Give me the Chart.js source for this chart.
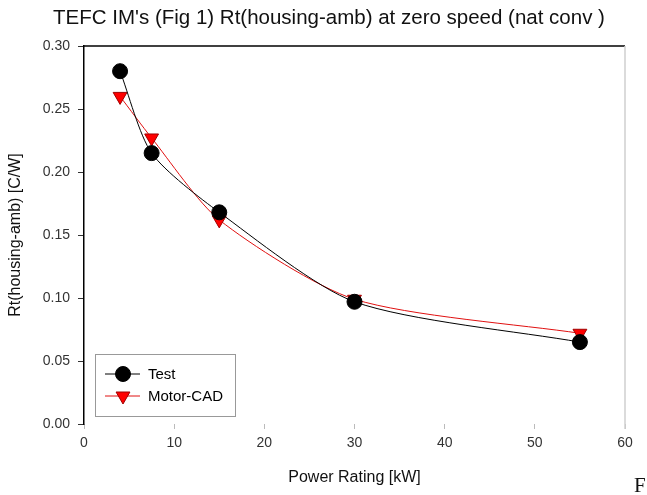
<!DOCTYPE html>
<html>
<head>
<meta charset="utf-8">
<script src="https://cdn.jsdelivr.net/npm/chart.js@4"></script>
<style>
  html, body { margin: 0; padding: 0; background: #fff; }
  #wrap { width: 647px; height: 495px; position: relative; }
</style>
</head>
<body>
<div id="wrap"><canvas id="rtChart" width="647" height="495"></canvas></div>
<script>
// Data
const powerKW = [4, 7.5, 15, 30, 55];
const testRt = [0.280, 0.215, 0.168, 0.097, 0.065];
const motorCadRt = [0.260, 0.227, 0.162, 0.099, 0.072];
const seriesNames = ["Test", "Motor-CAD"];
const chartTitle = "TEFC IM's (Fig 1) Rt(housing-amb) at zero speed (nat conv )";

const FONT = "'Liberation Sans', Arial, sans-serif";

function toPoints(xs, ys) {
  return xs.map((x, i) => ({ x: x, y: ys[i] }));
}

// title, top + right frame lines, legend box and the stray "F"
const extras = {
  id: "extras",
  afterDatasetsDraw(chart) {
    const c = chart.ctx;
    const a = chart.chartArea;
    c.save();
    // title
    c.fillStyle = "#111";
    c.font = "20.5px " + FONT;
    c.textAlign = "center";
    c.textBaseline = "middle";
    c.fillText(chartTitle, 329, 18);

    // top border
    c.strokeStyle = "#000";
    c.lineWidth = 1.5;
    c.beginPath();
    c.moveTo(a.left, a.top);
    c.lineTo(a.right, a.top);
    c.stroke();
    // right border (faint in the scan)
    c.strokeStyle = "#cfcfcf";
    c.lineWidth = 1.5;
    c.beginPath();
    c.moveTo(a.right, a.top);
    c.lineTo(a.right, a.bottom + 5);
    c.stroke();

    // legend box
    const bx = 95, by = 354, bw = 140, bh = 62;
    c.fillStyle = "#fff";
    c.fillRect(bx, by, bw, bh);
    c.strokeStyle = "#999";
    c.lineWidth = 1;
    c.strokeRect(bx + 0.5, by + 0.5, bw, bh);
    chart.data.datasets.forEach((ds, i) => {
      const y = 374 + i * 22;
      c.strokeStyle = ds.borderColor;
      c.lineWidth = 1;
      c.beginPath();
      c.moveTo(105, y);
      c.lineTo(140, y);
      c.stroke();
      c.fillStyle = ds.pointBackgroundColor;
      c.strokeStyle = ds.pointBorderColor;
      c.lineWidth = 1;
      Chart.helpers.drawPoint(c, {
        pointStyle: ds.pointStyle,
        radius: ds.pointRadius,
        rotation: ds.pointRotation || 0,
        borderWidth: 1
      }, 123, y);
      c.fillStyle = "#000";
      c.font = "15px " + FONT;
      c.textBaseline = "middle";
      c.textAlign = "left";
      c.fillText(ds.label, 148, y + 1);
    });

    c.fillStyle = "#111";
    c.font = "21px 'Liberation Serif', serif";
    c.textAlign = "left";
    c.textBaseline = "alphabetic";
    c.fillText("F", 634, 492);
    c.restore();
  }
};

new Chart(document.getElementById("rtChart"), {
  type: "scatter",
  data: {
    datasets: [
      {
        label: seriesNames[0],
        data: toPoints(powerKW, testRt),
        showLine: true,
        tension: 0.25,
        borderColor: "#000",
        borderWidth: 1,
        pointStyle: "circle",
        pointRadius: 7.5,
        pointBackgroundColor: "#000",
        pointBorderColor: "#000"
      },
      {
        label: seriesNames[1],
        data: toPoints(powerKW, motorCadRt),
        showLine: true,
        tension: 0.25,
        borderColor: "#e01010",
        borderWidth: 1,
        pointStyle: "triangle",
        pointRotation: 180,
        pointRadius: 8,
        pointBackgroundColor: "#ff0000",
        pointBorderColor: "#a00000"
      }
    ]
  },
  options: {
    responsive: false,
    animation: false,
    layout: { padding: { left: 0, right: 22, top: 46, bottom: 0 } },
    plugins: {
      legend: { display: false },
      tooltip: { enabled: false },
      title: { display: false }
    },
    scales: {
      x: {
        type: "linear",
        min: 0,
        max: 60,
        afterFit: s => { s.height = 71; },
        ticks: { stepSize: 10, color: "#333", font: { family: FONT, size: 14 }, padding: 6 },
        grid: { display: true, drawOnChartArea: false, drawTicks: true, tickLength: 5, color: "#bbb" },
        border: { display: false },
        title: {
          display: true,
          text: "Power Rating [kW]",
          color: "#111",
          font: { family: FONT, size: 16 },
          padding: { top: 0, bottom: 8 }
        }
      },
      y: {
        min: 0,
        max: 0.3,
        afterFit: s => { s.width = 84; },
        ticks: {
          stepSize: 0.05,
          color: "#333",
          font: { family: FONT, size: 14 },
          padding: 8,
          callback: v => v.toFixed(2)
        },
        grid: { display: true, drawOnChartArea: false, drawTicks: true, tickLength: 6, color: "#333" },
        border: { display: true, color: "#000", width: 1.5 },
        title: {
          display: true,
          text: "Rt(housing-amb) [C/W]",
          color: "#111",
          font: { family: FONT, size: 16 },
          padding: { top: 6, bottom: 0 }
        }
      }
    }
  },
  plugins: [extras]
});
</script>
</body>
</html>
